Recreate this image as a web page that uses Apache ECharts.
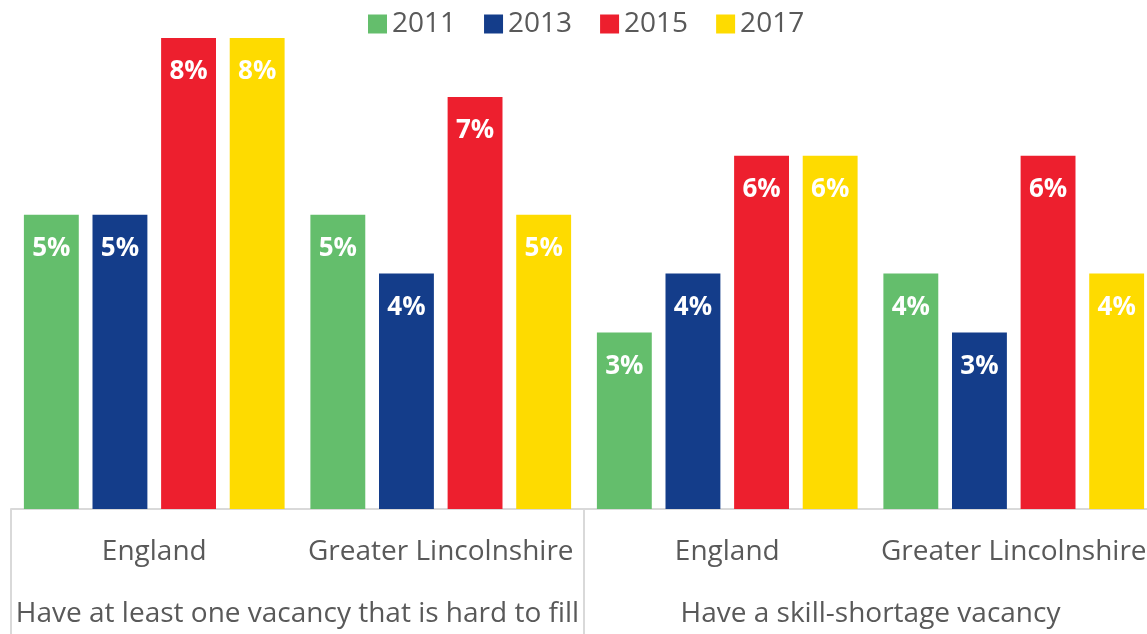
<!DOCTYPE html>
<html>
<head>
<meta charset="utf-8">
<script src="https://cdn.jsdelivr.net/npm/echarts@6/dist/echarts.min.js"></script>
<style>
  html, body { margin: 0; padding: 0; background: #fff; overflow: hidden; }
  #chart { width: 1160px; height: 634px; }
</style>
</head>
<body>
<div id="chart"></div>
<script>
// areas and the two question groups
const areas = ['England', 'Greater Lincolnshire', 'England', 'Greater Lincolnshire'];
const groups = ['Have at least one vacancy that is hard to fill', 'Have a skill-shortage vacancy'];
const years = ['2011', '2013', '2015', '2017'];

// share of establishments, %
const v2011 = [5, 5, 3, 4];
const v2013 = [5, 4, 4, 3];
const v2015 = [8, 7, 6, 6];
const v2017 = [8, 5, 6, 4];

const colors = ['#64BE6C', '#143D8A', '#ED1F2E', '#FEDB00'];
const font = '"Open Sans", "Noto Sans", sans-serif';

const chart = echarts.init(document.getElementById('chart'));

const makeSeries = (name, data) => ({
    name: name,
    type: 'bar',
    data: data,
    barGap: '25%',
    barCategoryGap: '9%',
    label: {
        show: true,
        position: 'insideTop',
        distance: 21,
        color: '#fff',
        fontFamily: font,
        fontWeight: 'bold',
        fontSize: 26,
        formatter: (p) => p.value + '%'
    }
});

// plot spans a bit past the window's right edge, as in the original
chart.setOption({
    color: colors,
    animation: false,
    legend: {
        top: 5,
        left: 363,
        itemWidth: 19,
        itemHeight: 19,
        itemGap: 28,
        icon: 'rect',
        textStyle: { color: '#595959', fontSize: 28, fontFamily: font }
    },
    grid: { left: 11, right: 3, top: 38, bottom: 125 },
    xAxis: [
        {
            type: 'category',
            data: areas,
            axisLine: { lineStyle: { color: '#d9d9d9', width: 2 } },
            axisTick: { show: false },
            axisLabel: { interval: 0, color: '#595959', fontSize: 28, fontFamily: font, margin: 29 }
        },
        {
            type: 'category',
            data: groups,
            position: 'bottom',
            axisLine: { show: false },
            axisTick: { show: true, length: 125, lineStyle: { color: '#d9d9d9', width: 2 } },
            axisLabel: { interval: 0, color: '#595959', fontSize: 28, fontFamily: font, margin: 91 }
        }
    ],
    yAxis: {
        type: 'value',
        min: 0,
        max: 8,
        show: false,
        splitLine: { show: false }
    },
    series: [
        makeSeries(years[0], v2011),
        makeSeries(years[1], v2013),
        makeSeries(years[2], v2015),
        makeSeries(years[3], v2017)
    ]
});
</script>
</body>
</html>
